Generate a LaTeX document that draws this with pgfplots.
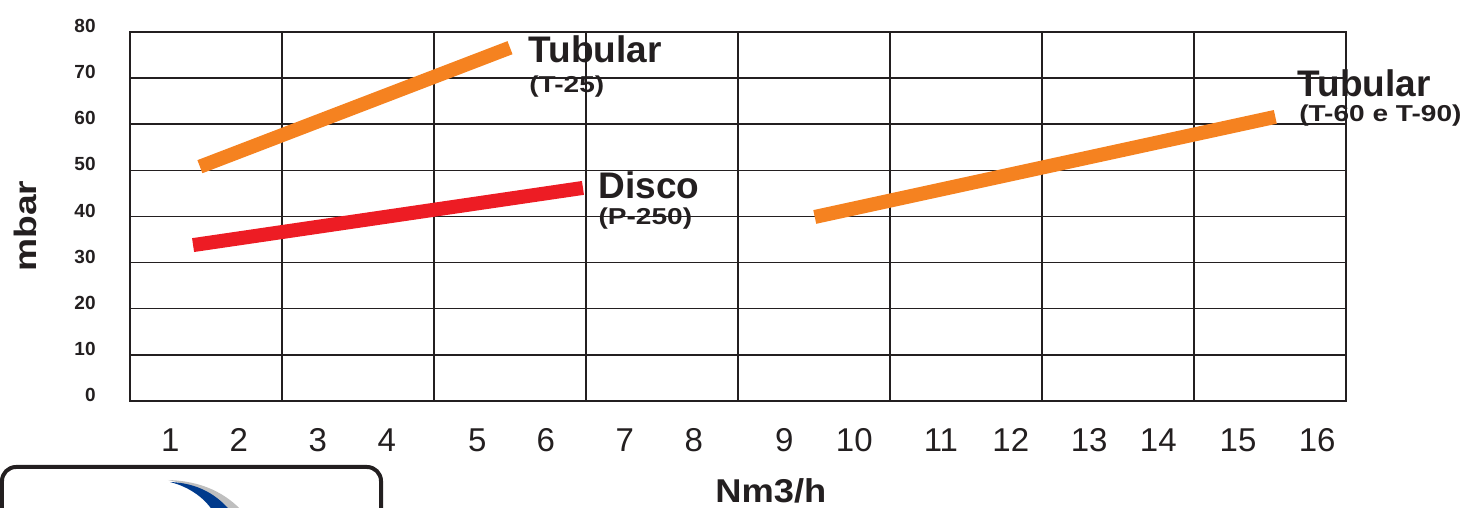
\documentclass[border=0pt]{standalone}
\usepackage{fontspec}
\setmainfont{Liberation Sans}
\usepackage{pgfplots}
\pgfplotsset{compat=1.18}
\definecolor{txt}{HTML}{231F20}
\definecolor{laranja}{HTML}{F58220}
\definecolor{vermelho}{HTML}{ED1C24}
\definecolor{azul}{HTML}{003A8C}

\begin{document}
\begin{tikzpicture}
\path[use as bounding box] (-65pt,-53.5pt) rectangle (669pt,200.5pt);
\begin{axis}[
  at={(0,0)}, anchor=south west,
  scale only axis, width=608pt, height=184.5pt,
  xmin=0.5, xmax=16.5, ymin=0, ymax=80,
  clip=false,
  axis line style={draw=txt, line width=1pt},
  xtick={1.03,1.93,2.97,3.88,5.07,5.97,7.01,7.92,9.11,10.03,11.17,12.09,13.12,14.03,15.08,16.12},
  xticklabels={1,2,3,4,5,6,7,8,9,10,11,12,13,14,15,16},
  minor xtick={2.5,4.5,6.5,8.5,10.5,12.5,14.5},
  ytick={0,10,...,80},
  xminorgrids, ymajorgrids,
  major tick length=0pt, minor tick length=0pt,
  grid style={draw=txt, line width=0.75pt},
  minor grid style={draw=txt, line width=0.75pt},
  /pgf/number format/assume math mode=true,
  xticklabel style={font=\fontsize{16.5}{18}\selectfont, text=txt,
    anchor=base, inner sep=0pt, yshift=-25.5pt},
  yticklabel style={font=\fontsize{9.5}{11}\selectfont\bfseries, text=txt,
    anchor=east, inner sep=0pt, xshift=-17pt, yshift=3pt},
  xlabel={\scalebox{1.1}[1]{Nm3/h}},
  xlabel style={at={(axis description cs:0.527,0)}, anchor=base, inner sep=0pt,
    yshift=-51pt, font=\fontsize{16.5}{18}\selectfont\bfseries, text=txt},
  ylabel={\scalebox{1.2}[1]{mbar}},
  ylabel style={at={(axis description cs:-0.0864,0.474)}, anchor=center, inner sep=0pt,
    font=\fontsize{15.5}{17}\selectfont\bfseries, text=txt},
  every axis plot/.append style={line width=7pt, line cap=butt},
]

% Tubular (T-25)
\addplot[laranja] coordinates {(1.42,50.8) (5.50,76.6)};
% Disco (P-250)
\addplot[vermelho] coordinates {(1.33,33.8) (6.46,46.2)};
% Tubular (T-60 e T-90)
\addplot[laranja] coordinates {(9.51,39.9) (15.57,61.6)};

\begin{scope}[every node/.style={anchor=base west, inner sep=0pt, text=txt}]
\node[font=\fontsize{18.5}{20}\selectfont\bfseries] at (axis cs:5.74,73.3) {Tubular};
\node[font=\fontsize{11.5}{13}\selectfont\bfseries] at (axis cs:5.75,66.8) {\scalebox{1.22}[1]{(T-25)}};
\node[font=\fontsize{18.5}{20}\selectfont\bfseries] at (axis cs:6.66,44.0) {Disco};
\node[font=\fontsize{11.5}{13}\selectfont\bfseries] at (axis cs:6.66,38.2) {\scalebox{1.22}[1]{(P-250)}};
\node[font=\fontsize{18.5}{20}\selectfont\bfseries] at (axis cs:15.86,66.0) {Tubular};
\node[font=\fontsize{11.5}{13}\selectfont\bfseries] at (axis cs:15.88,60.6) {\scalebox{1.22}[1]{(T-60 e T-90)}};
\end{scope}
\end{axis}

% logo frame, bottom left
\draw[txt, line width=2pt, rounded corners=7pt] (-64pt,-60pt) -- (-64pt,-33pt) -- (125.5pt,-33pt) -- (125.5pt,-60pt);
\fill[gray, opacity=0.5] (19pt,-39.5pt) .. controls (36pt,-40pt) and (48pt,-46pt) .. (57pt,-56pt) -- (49pt,-56pt) .. controls (42pt,-48pt) and (32pt,-42pt) .. (19pt,-39.5pt);
\fill[azul] (20pt,-40.5pt) .. controls (34pt,-41pt) and (44pt,-47pt) .. (51pt,-56pt) -- (42pt,-56pt) .. controls (38pt,-49pt) and (30pt,-43pt) .. (20pt,-40.5pt);
\end{tikzpicture}
\end{document}
